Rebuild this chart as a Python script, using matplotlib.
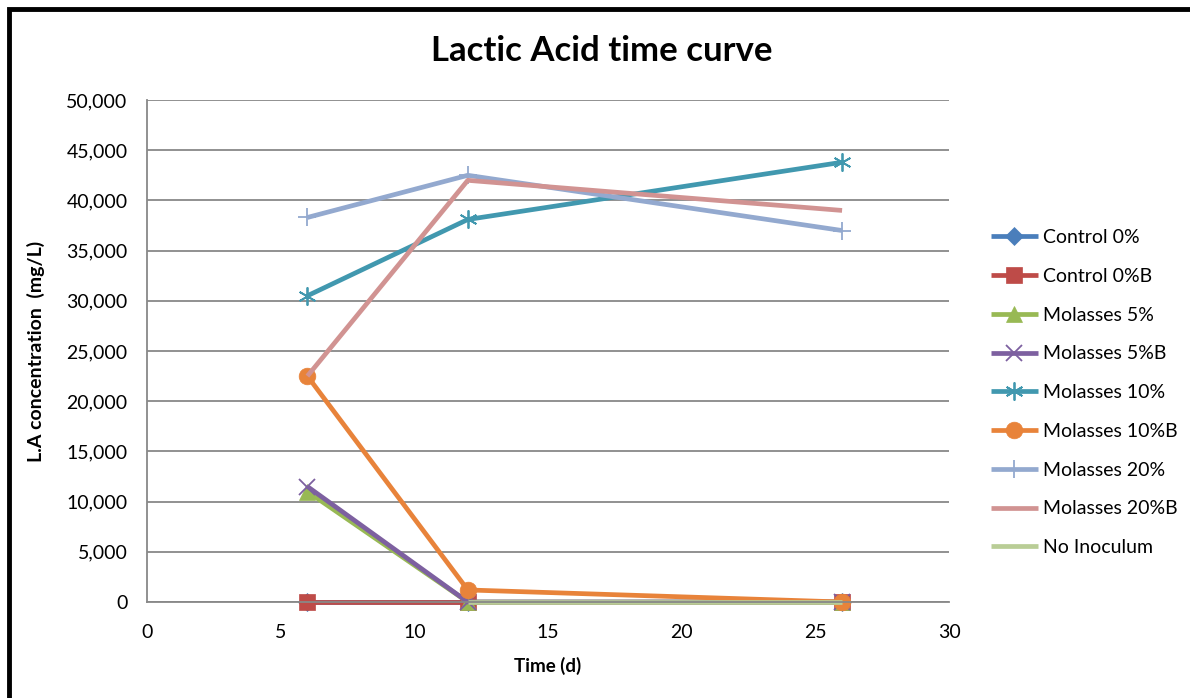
import matplotlib.pyplot as plt
import matplotlib.ticker as ticker
from matplotlib.patches import Rectangle
import numpy as np

plt.rcParams['font.family'] = ['Lato', 'DejaVu Sans']

# data
days = [6, 12, 26]
names = ['Control 0%', 'Control 0%B', 'Molasses 5%', 'Molasses 5%B',
         'Molasses 10%', 'Molasses 10%B', 'Molasses 20%', 'Molasses 20%B',
         'No Inoculum']
control_0 = [0, 0, 0]
control_0b = [0, 0, 0]
molasses_5 = [11000, 0, 0]
molasses_5b = [11500, 0, 0]
molasses_10 = [30500, 38100, 43800]
molasses_10b = [22500, 1200, 0]
molasses_20 = [38300, 42500, 37000]
molasses_20b = [22500, 42000, 39000]
no_inoculum = [np.nan, 0, 0]

series = [control_0, control_0b, molasses_5, molasses_5b, molasses_10,
          molasses_10b, molasses_20, molasses_20b, no_inoculum]
colors = ['#4A7EBB', '#BE4B48', '#98B954', '#7D60A0', '#4198AF',
          '#E8833A', '#93A9CF', '#D19392', '#B9CD96']
markers = ['D', 's', '^', 'x', (6, 2, 0), 'o', '+', None, None]
msizes = [9, 11, 11, 11, 13, 12, 13, 0, 0]

fig = plt.figure(figsize=(11.9, 6.98), dpi=100)
ax = fig.add_axes([147 / 1190, 1 - 602 / 698, (949 - 147) / 1190, (602 - 100) / 698])

lines = []
for vals, name, c, m, ms in zip(series, names, colors, markers, msizes):
    thin = m in ('x', '+', (6, 2, 0))
    ln, = ax.plot(days, vals, color=c, lw=3.4, marker=m, markersize=ms,
                  markeredgewidth=1.3 if thin else 0.5,
                  markeredgecolor=c, markerfacecolor=c, label=name,
                  solid_capstyle='butt', clip_on=False)
    lines.append(ln)

ax.set_xlim(0, 30)
ax.set_ylim(0, 50000)
ax.set_xticks(range(0, 31, 5))
ax.set_yticks(range(0, 50001, 5000))
ax.yaxis.set_major_formatter(ticker.FuncFormatter(lambda v, p: f'{int(v):,}'))
ax.grid(axis='y', color='#888888', lw=1.3)
ax.set_axisbelow(True)
for s in ['top', 'right']:
    ax.spines[s].set_visible(False)
for s in ['left', 'bottom']:
    ax.spines[s].set_color('#888888')
    ax.spines[s].set_linewidth(1.3)
ax.tick_params(axis='both', labelcolor='black', labelsize=14, length=0)
ax.tick_params(axis='x', pad=16)
ax.tick_params(axis='y', pad=14)

ax.set_xlabel('Time (d)', fontsize=13.5, fontweight='bold', labelpad=11)
ax.set_ylabel('L.A concentration  (mg/L)', fontsize=14, fontweight='bold', labelpad=15)
fig.text(602 / 1190, 1 - 51 / 698, 'Lactic Acid time curve', fontsize=25,
         fontweight='bold', ha='center', va='center')

fig.legend(handles=lines, loc='upper left', bbox_to_anchor=(991 / 1190, 1 - 229 / 698),
           frameon=False, fontsize=14, handlelength=2.4, handletextpad=0.25,
           labelspacing=1.12, borderaxespad=0, borderpad=0)

# outer black frame of the chart object
fig.patches.append(Rectangle((9 / 1190, -0.1), 1.2, 1 - 9 / 698 + 0.1,
                             transform=fig.transFigure, fill=False,
                             edgecolor='black', lw=3.5))

fig.savefig('out.png', dpi=100)
